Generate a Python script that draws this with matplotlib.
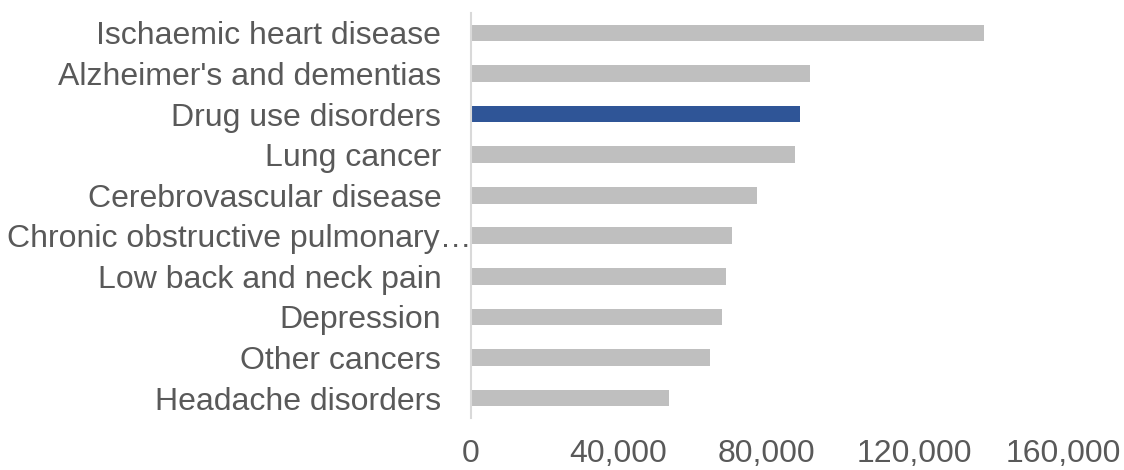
import matplotlib
matplotlib.use("Agg")
import matplotlib.pyplot as plt
import matplotlib.transforms as mtransforms
from matplotlib.ticker import FuncFormatter

categories = [
    "Ischaemic heart disease",
    "Alzheimer's and dementias",
    "Drug use disorders",
    "Lung cancer",
    "Cerebrovascular disease",
    "Chronic obstructive pulmonary…",
    "Low back and neck pain",
    "Depression",
    "Other cancers",
    "Headache disorders",
]
values = [138700, 91700, 89000, 87500, 77400, 70500, 69100, 67900, 64700, 53600]
highlight = "Drug use disorders"
x_ticks = [0, 40000, 80000, 120000, 160000]

plt.rcParams['font.family'] = ['Liberation Sans', 'DejaVu Sans']
text_color = "#595959"

fig = plt.figure(figsize=(11.24, 4.70), dpi=100)
ax = fig.add_axes([0.4186, 0.11, 0.9457 - 0.4186, 0.973 - 0.11])

colors = ["#2F5597" if c == highlight else "#BFBFBF" for c in categories]
ypos = list(range(len(categories)))
ax.barh(ypos, values, height=0.41, color=colors, edgecolor='none')
ax.set_ylim(len(categories) - 0.5, -0.5)
ax.set_xlim(0, 160000)
ax.set_yticks(ypos)
ax.set_yticklabels(categories)
ax.set_xticks(x_ticks)
ax.xaxis.set_major_formatter(FuncFormatter(lambda v, p: f"{int(v):,}"))

for s in ["top", "right", "bottom"]:
    ax.spines[s].set_visible(False)
ax.spines["left"].set_color("#D9D9D9")
ax.spines["left"].set_linewidth(1.5)

ax.tick_params(axis='y', length=0, pad=21, labelsize=23, labelcolor=text_color)
ax.tick_params(axis='x', length=0, pad=15, labelsize=23, labelcolor=text_color)

# shift the truncated label so the ellipsis reaches the axis, as in the reference
for lab in ax.get_yticklabels():
    if lab.get_text().endswith("…"):
        lab.set_transform(lab.get_transform() + mtransforms.ScaledTranslation(22 / 72, 0, fig.dpi_scale_trans))

fig.savefig("out.png", dpi=100, facecolor="white")
